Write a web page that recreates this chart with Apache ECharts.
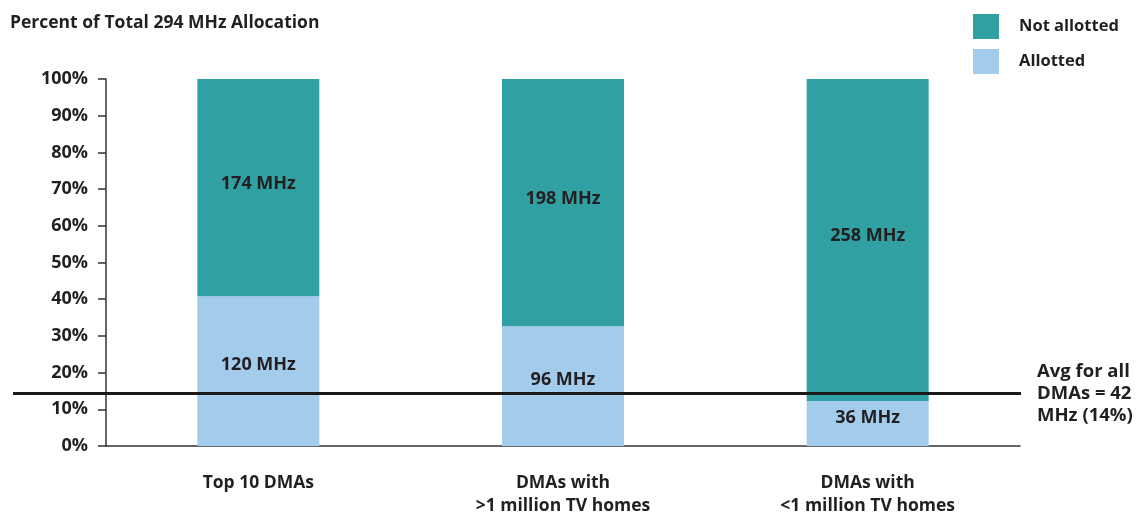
<!DOCTYPE html>
<html>
<head>
<meta charset="utf-8">
<script src="https://cdn.jsdelivr.net/npm/echarts@6/dist/echarts.min.js"></script>
<style>
  html, body { margin: 0; padding: 0; background: #fff; }
  #chart { width: 1141px; height: 518px; }
</style>
</head>
<body>
<div id="chart"></div>
<script>
// Spectrum allocation by market group (MHz out of a 294 MHz total)
const totalMHz = 294;
const categories = ['Top 10 DMAs', 'DMAs with\n>1 million TV homes', 'DMAs with\n<1 million TV homes'];
const allottedMHz = [120, 96, 36];
const notAllottedMHz = [174, 198, 258];
const averageMHz = 42;
const averageLabel = ['Avg for all', 'DMAs = 42', 'MHz (14%)'];
const yTicks = [0, 10, 20, 30, 40, 50, 60, 70, 80, 90, 100];

const toPct = v => v / totalMHz * 100;
const FONT = '"Open Sans", Lato, sans-serif';
const INK = '#231f20';
const TEAL = '#31a0a2';
const LIGHT = '#a3cbeb';

const chart = echarts.init(document.getElementById('chart'));

function segmentLabel(mhz, offsetY) {
  return {
    show: true,
    position: 'inside',
    offset: [0, offsetY],
    formatter: p => mhz[p.dataIndex] + ' MHz',
    color: INK,
    fontFamily: FONT,
    fontWeight: 'bold',
    fontSize: 18
  };
}

chart.setOption({
  animation: false,
  title: {
    text: 'Percent of Total 294 MHz Allocation',
    left: 5,
    top: 9,
    textStyle: { color: INK, fontFamily: FONT, fontWeight: 'bold', fontSize: 17.5 }
  },
  legend: {
    orient: 'vertical',
    left: 968,
    top: 9,
    icon: 'rect',
    itemWidth: 26,
    itemHeight: 25,
    itemGap: 10,
    textStyle: { color: INK, fontFamily: FONT, fontWeight: 'bold', fontSize: 16.5, padding: [0, 0, 0, 15] },
    data: ['Not allotted', 'Allotted']
  },
  grid: { left: 106, right: 121, top: 79, bottom: 71 },
  xAxis: {
    type: 'category',
    data: categories,
    axisLine: { lineStyle: { color: '#333', width: 1.5 } },
    axisTick: { show: false },
    axisLabel: {
      color: INK, fontFamily: FONT, fontWeight: 'bold', fontSize: 17.5,
      lineHeight: 23, margin: 26, interval: 0
    }
  },
  yAxis: {
    type: 'value',
    min: 0,
    max: 100,
    interval: 10,
    axisLine: { show: true, lineStyle: { color: '#333', width: 1.5 } },
    axisTick: { show: true, length: 8, lineStyle: { color: '#333', width: 1.5 } },
    splitLine: { show: false },
    axisLabel: {
      color: INK, fontFamily: FONT, fontWeight: 'bold', fontSize: 18, margin: 18,
      formatter: v => (yTicks.includes(v) ? v + '%' : '')
    }
  },
  series: [
    {
      name: 'Allotted',
      type: 'bar',
      stack: 'total',
      barWidth: 122,
      itemStyle: { color: LIGHT },
      label: segmentLabel(allottedMHz, -6),
      data: allottedMHz.map(toPct)
    },
    {
      name: 'Not allotted',
      type: 'bar',
      stack: 'total',
      barWidth: 122,
      itemStyle: { color: TEAL },
      label: segmentLabel(notAllottedMHz, -4),
      data: notAllottedMHz.map(toPct)
    }
  ]
});

// Average reference line spanning the full chart width, placed with the y scale
function drawAverage() {
  const y = chart.convertToPixel({ yAxisIndex: 0 }, toPct(averageMHz));
  chart.setOption({
    graphic: [
      {
        id: 'avgLine',
        type: 'line',
        shape: { x1: 13, y1: y, x2: 1021, y2: y },
        style: { stroke: '#1a1a1a', lineWidth: 3 },
        z: 100
      },
      {
        id: 'avgText',
        type: 'text',
        left: 1037,
        top: y - 33,
        style: {
          text: averageLabel.join('\n'),
          fill: INK,
          font: 'bold 18.5px ' + FONT,
          lineHeight: 22
        },
        z: 100
      }
    ]
  });
}
drawAverage();
</script>
</body>
</html>
